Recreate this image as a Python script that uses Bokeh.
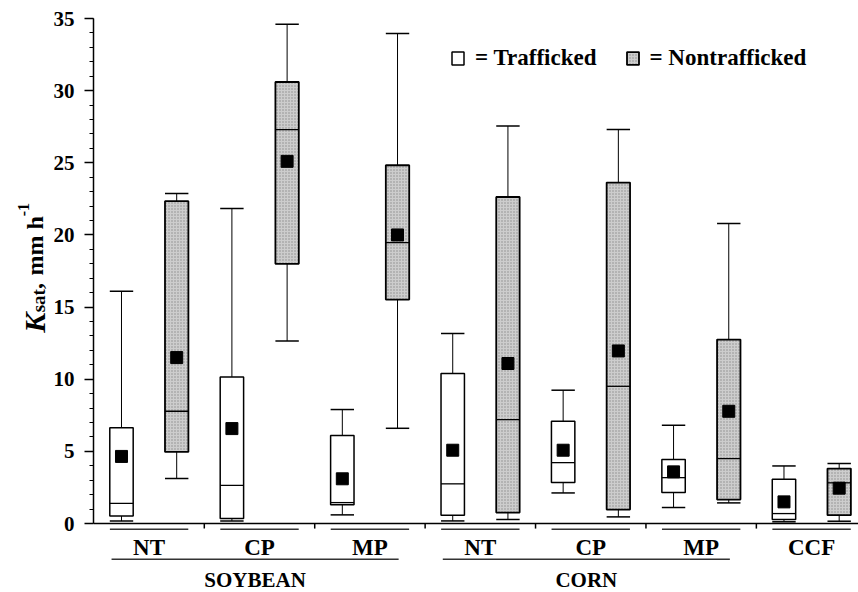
import numpy as np
from bokeh.plotting import figure
from bokeh.layouts import row
from bokeh.models import ColumnDataSource, Legend, LegendItem, SingleIntervalTicker, Span
from bokeh.core.properties import value
from bokeh.embed import file_html
from bokeh.resources import INLINE

# ---- data (mm/h), 14 boxes: crop x tillage x traffic ----
group_labels = ["NT", "CP", "MP", "NT", "CP", "MP", "CCF"]
crop_labels = ["SOYBEAN", "CORN"]
crop_groups = [[0, 1, 2], [3, 4, 5]]
traffic = ["Trafficked", "Nontrafficked"] * 7

whisker_low = [0.17, 3.12, 0.18, 12.65, 0.60, 6.60, 0.18, 0.28, 2.12, 0.46, 1.11, 1.43, 0.12, 0.16]
q1 = [0.52, 4.96, 0.34, 18.00, 1.30, 15.52, 0.58, 0.76, 2.84, 0.97, 2.15, 1.66, 0.28, 0.58]
median = [1.40, 7.78, 2.65, 27.30, 1.45, 19.47, 2.75, 7.20, 4.22, 9.51, 3.18, 4.50, 0.69, 2.82]
q3 = [6.64, 22.34, 10.16, 30.60, 6.10, 24.83, 10.40, 22.63, 7.09, 23.63, 4.43, 12.75, 3.07, 3.81]
whisker_high = [16.10, 22.87, 21.83, 34.60, 7.90, 33.96, 13.17, 27.55, 9.24, 27.30, 6.81, 20.80, 3.99, 4.16]
mean = [4.65, 11.50, 6.58, 25.10, 3.10, 20.00, 5.08, 11.09, 5.08, 11.96, 3.58, 7.78, 1.50, 2.45]

y_ticks_interval = 5

FONT = "Liberation Serif"
n = len(q1)
xpos = np.arange(1, n + 1, dtype=float)
half = 0.212

TOTAL_W, TOTAL_H = 858, 592
LAB_W = 50

# ---- y-axis title panel (K_sat, mm h^-1), pixel coordinates ----
pl = figure(width=LAB_W, height=TOTAL_H, x_range=(0, LAB_W), y_range=(0, TOTAL_H),
            output_backend="svg", toolbar_location=None, x_axis_location=None, y_axis_location=None,
            min_border=0)
pl.outline_line_color = None
pl.grid.visible = False
lab_text = ["K", "sat", ",", "mm h", "-1"]
lab_x = [34, 38, 34, 34, 23]
lab_y = [268, 289, 313, 327, 388]
lab_size = ["30px", "19px", "24px", "24px", "16px"]
lab_style = ["bold italic", "bold", "bold", "bold", "bold"]
for t, x, y, s, st in zip(lab_text, lab_x, lab_y, lab_size, lab_style):
    pl.text(x=[x], y=[y], text=[t], angle=np.pi / 2, text_font=value(FONT), text_font_style=st,
            text_font_size=s, text_align="left", text_baseline="alphabetic", text_color="black")

# ---- main plot ----
p = figure(width=TOTAL_W - LAB_W, height=TOTAL_H, x_range=(0.493, 14.35), y_range=(-4.78, 35),
           output_backend="svg", toolbar_location=None, x_axis_location=None,
           min_border_left=93 - LAB_W, min_border_right=0, min_border_top=18, min_border_bottom=0)
p.outline_line_color = None
p.xgrid.visible = False
p.ygrid.visible = False

ax = p.yaxis[0]
ax.ticker = SingleIntervalTicker(interval=y_ticks_interval, num_minor_ticks=5)
ax.bounds = (0, 35)
ax.axis_line_width = 1.5
ax.axis_line_color = "black"
ax.major_tick_out = 9
ax.major_tick_in = 0
ax.minor_tick_out = 4
ax.minor_tick_in = 0
ax.major_tick_line_width = 1.5
ax.minor_tick_line_width = 1
ax.major_label_text_font = FONT
ax.major_label_text_font_style = "bold"
ax.major_label_text_font_size = "21px"
ax.major_label_text_color = "black"
ax.major_label_standoff = 10

is_t = np.array([t == "Trafficked" for t in traffic])

def src(mask):
    return ColumnDataSource(dict(
        left=xpos[mask] - half, right=xpos[mask] + half,
        bottom=np.array(q1)[mask], top=np.array(q3)[mask]))

src_t = src(is_t)
src_n = src(~is_t)

# whiskers and caps
p.segment(x0=xpos, y0=q3, x1=xpos, y1=whisker_high, line_color="black", line_width=1)
p.segment(x0=xpos, y0=q1, x1=xpos, y1=whisker_low, line_color="black", line_width=1)
p.segment(x0=xpos - half, y0=whisker_high, x1=xpos + half, y1=whisker_high, line_color="black", line_width=1.5)
p.segment(x0=xpos - half, y0=whisker_low, x1=xpos + half, y1=whisker_low, line_color="black", line_width=1.5)

r_t = p.quad(left="left", right="right", bottom="bottom", top="top", source=src_t,
             fill_color="white", line_color="black", line_width=1.5)
r_n = p.quad(left="left", right="right", bottom="bottom", top="top", source=src_n,
             fill_color="#cdcdcd", hatch_pattern=".", hatch_color="#8c8c8c", hatch_scale=3,
             hatch_weight=1, line_color="black", line_width=1.8)

p.segment(x0=xpos - half, y0=median, x1=xpos + half, y1=median, line_color="black", line_width=1.3)
p.scatter(x=xpos, y=mean, marker="square", size=12, color="black")

# x axis line and group boundary ticks
p.add_layout(Span(location=0, dimension="width", line_color="black", line_width=1.5))
group_first = xpos[0::2]
bounds = group_first[1:] - 0.5
p.segment(x0=bounds, y0=0, x1=bounds, y1=-0.35, line_color="black", line_width=1.5)

# group labels and short lines
p.segment(x0=group_first - 0.21, y0=-0.4, x1=group_first + 1.21, y1=-0.4, line_color="#333333", line_width=1.5)
p.text(x=group_first + 0.5, y=-1.64, text=group_labels, text_font=value(FONT), text_font_style="bold",
       text_font_size="23px", text_align="center", text_baseline="middle", text_color="black")

# crop labels and long lines
c_start = np.array([group_first[g[0]] - 0.18 for g in crop_groups])
c_end = np.array([group_first[g[-1]] + 1.02 for g in crop_groups])
p.segment(x0=c_start, y0=-2.47, x1=c_end, y1=-2.47, line_color="#333333", line_width=1.5)
p.text(x=(c_start + c_end) / 2, y=-3.9, text=crop_labels, text_font=value(FONT), text_font_style="bold",
       text_font_size="21px", text_align="center", text_baseline="middle", text_color="black")

legend = Legend(items=[LegendItem(label="= Trafficked", renderers=[r_t]),
                       LegendItem(label="= Nontrafficked", renderers=[r_n])],
                orientation="horizontal", location=(357, 521), padding=0, margin=0,
                glyph_width=15, glyph_height=16, label_standoff=10, spacing=28,
                border_line_color=None, background_fill_alpha=0,
                label_text_font=FONT, label_text_font_style="bold", label_text_font_size="23px",
                label_text_color="black")
p.add_layout(legend, "center")

layout = row(pl, p, spacing=0)
open("out.html", "w").write(file_html(layout, INLINE))
